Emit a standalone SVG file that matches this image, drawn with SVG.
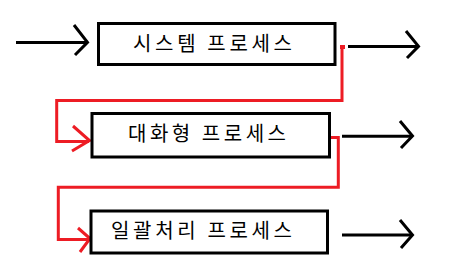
<svg xmlns="http://www.w3.org/2000/svg" width="458" height="278" viewBox="0 0 458 278">
<style>
.box{fill:#fff;stroke:#000;stroke-width:3}
.lbl{font-family:"Noto Sans CJK KR","Noto Sans",sans-serif;font-size:20px;fill:#000}
.blk{fill:none;stroke:#000;stroke-width:3;stroke-linejoin:miter}
.red{fill:none;stroke:#ED1C24;stroke-width:3;stroke-linejoin:miter}
</style>
<rect width="458" height="278" fill="#fff"/>
<g id="connectors">
<path class="blk" d="M16,42.5 H87"/>
<path class="blk" d="M74,25 L87.5,42.3 L75,55"/>
<path class="blk" d="M348,46.5 H418"/>
<path class="blk" d="M406,31 L418.5,46.3 L407,58"/>
<path class="blk" d="M342,136.2 H412"/>
<path class="blk" d="M400,121 L412.5,136 L401,148"/>
<path class="blk" d="M342,235 H412"/>
<path class="blk" d="M400,220 L412.5,235 L401,248"/>
<path class="red" d="M342,47 V100.5 H56.7 V141.5 H89"/>
<rect x="340" y="45" width="5" height="4" fill="#ED1C24"/>
<path class="red" d="M73,126 L89.5,140.5 L72,151"/>
<path class="red" d="M331,137.5 H338.3 V187.3 H58.3 V239.5 H89"/>
<path class="red" d="M78,228 L90,238.5 L80,252"/>
</g>
<g id="node-system">
<rect class="box" x="98.5" y="23.5" width="236.5" height="41"/>
<text class="lbl" x="133" y="51" textLength="159" lengthAdjust="spacing">시스템 프로세스</text>
</g>
<g id="node-interactive">
<rect class="box" x="92" y="113.5" width="237.5" height="43.5"/>
<text class="lbl" x="128" y="141" textLength="158" lengthAdjust="spacing">대화형 프로세스</text>
</g>
<g id="node-batch">
<rect class="box" x="91" y="211" width="236.5" height="42"/>
<text class="lbl" x="111" y="238" textLength="181" lengthAdjust="spacing">일괄처리 프로세스</text>
</g>
</svg>
